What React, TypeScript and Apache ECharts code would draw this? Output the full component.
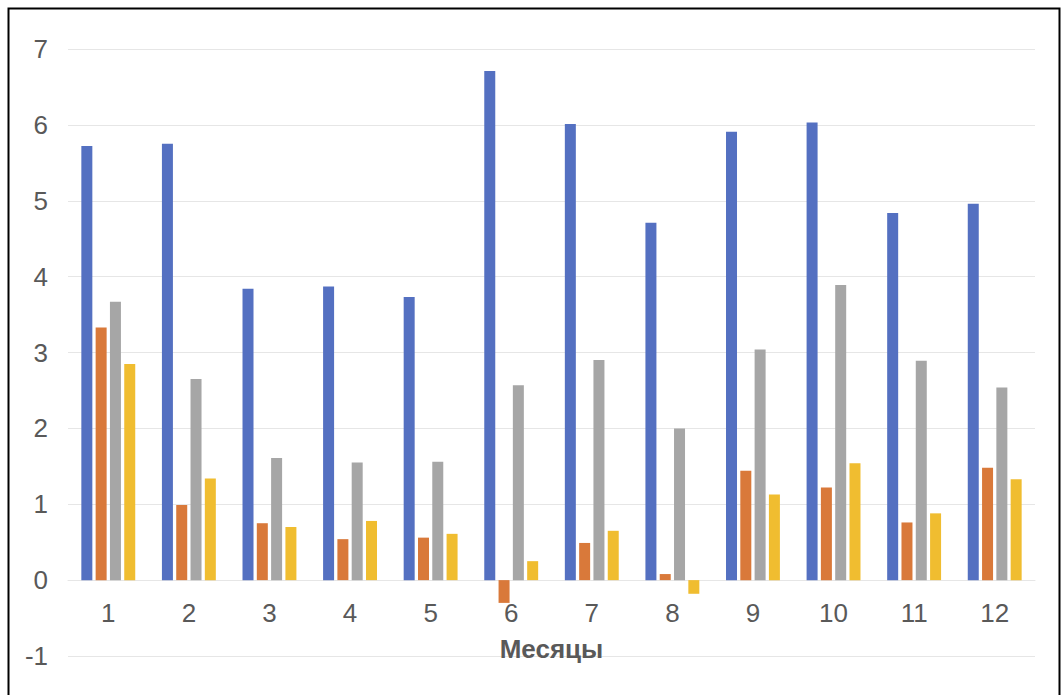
import React, { useEffect, useRef } from "react";
import * as echarts from "echarts";

const months = ["1", "2", "3", "4", "5", "6", "7", "8", "9", "10", "11", "12"];
const seriesBlue = [5.72, 5.75, 3.84, 3.87, 3.73, 6.71, 6.01, 4.71, 5.91, 6.03, 4.84, 4.96];
const seriesOrange = [3.33, 0.99, 0.75, 0.54, 0.56, -0.3, 0.49, 0.08, 1.44, 1.22, 0.76, 1.48];
const seriesGray = [3.67, 2.65, 1.61, 1.55, 1.56, 2.57, 2.9, 2.0, 3.04, 3.89, 2.89, 2.54];
const seriesYellow = [2.85, 1.34, 0.7, 0.78, 0.61, 0.25, 0.65, -0.18, 1.13, 1.54, 0.88, 1.33];
const axisTitle = "Месяцы";

export default function App() {
  const ref = useRef<HTMLDivElement>(null);
  useEffect(() => {
    if (!ref.current) return;
    const chart = echarts.init(ref.current, null, { renderer: "svg" });
    const font = "'Liberation Sans', Arial, sans-serif";
    const mk = (name: string, data: number[], color: string) => ({
      name,
      type: "bar",
      data,
      barWidth: 11,
      barGap: "30%",
      itemStyle: { color },
    });
    chart.setOption({
      animation: false,
      backgroundColor: "#ffffff",
      textStyle: { fontFamily: font },
      grid: {
        left: 68,
        right: 26,
        top: 49,
        bottom: 39,
        containLabel: false,
        outerBoundsMode: "none",
      },
      xAxis: {
        type: "category",
        data: months,
        name: axisTitle,
        nameLocation: "middle",
        nameGap: 56,
        offset: -76,
        nameTextStyle: { fontSize: 26, fontWeight: "bold", color: "#595959", fontFamily: font },
        axisLine: { show: true, onZero: false, lineStyle: { color: "#e6e6e6", width: 1 } },
        axisTick: { show: false },
        axisLabel: { fontSize: 26, color: "#595959", margin: 20, fontFamily: font },
        splitLine: { show: false },
      },
      yAxis: {
        type: "value",
        min: -1,
        max: 7,
        interval: 1,
        axisLine: { show: false },
        axisTick: { show: false },
        axisLabel: { fontSize: 26, color: "#595959", margin: 20, fontFamily: font },
        splitLine: { show: true, lineStyle: { color: "#e6e6e6", width: 1 } },
      },
      series: [
        mk("Ряд1", seriesBlue, "#5470c1"),
        mk("Ряд2", seriesOrange, "#d9793a"),
        mk("Ряд3", seriesGray, "#a6a6a6"),
        mk("Ряд4", seriesYellow, "#f0bd30"),
      ],
      graphic: [
        {
          type: "rect",
          left: 6,
          top: 6,
          shape: { x: 0, y: 0, width: 1051, height: 720 },
          style: { fill: "none", stroke: "#000000", lineWidth: 2 },
          silent: true,
        },
      ],
    });
    return () => chart.dispose();
  }, []);
  return (
    <div
      ref={ref}
      style={{ position: "fixed", left: 0, top: 0, width: 1061, height: 695 }}
    />
  );
}
